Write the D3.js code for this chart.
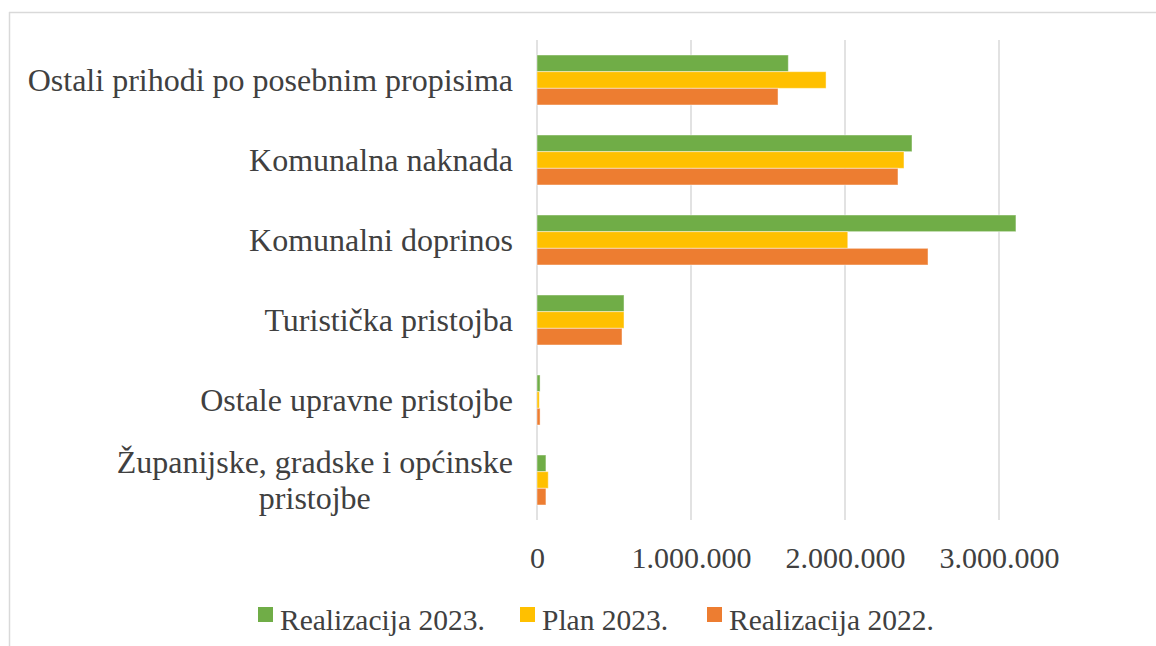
<!DOCTYPE html>
<html>
<head>
<meta charset="utf-8">
<script src="https://cdn.jsdelivr.net/npm/d3@7/dist/d3.min.js"></script>
<style>
  html, body { margin: 0; padding: 0; background: #fff; }
  svg { display: block; }
  text { font-family: "Liberation Serif", "Times New Roman", serif; fill: #404040; }
</style>
</head>
<body>
<svg id="chart" width="1156" height="646"></svg>
<script>
const categories = [
  "Ostali prihodi po posebnim propisima",
  "Komunalna naknada",
  "Komunalni doprinos",
  "Turistička pristojba",
  "Ostale upravne pristojbe",
  "Županijske, gradske i općinske pristojbe"
];
const categoryLines = [
  ["Ostali prihodi po posebnim propisima"],
  ["Komunalna naknada"],
  ["Komunalni doprinos"],
  ["Turistička pristojba"],
  ["Ostale upravne pristojbe"],
  ["Županijske, gradske i općinske", "pristojbe"]
];
const seriesNames = ["Realizacija 2023.", "Plan 2023.", "Realizacija 2022."];
const seriesColors = ["#70AD47", "#FFC000", "#ED7D31"];
const realizacija2023 = [1632000, 2435000, 3110000, 565000, 20000, 58000];
const plan2023 = [1877000, 2383000, 2018000, 565000, 15000, 73000];
const realizacija2022 = [1565000, 2344000, 2539000, 552000, 20000, 58000];
const seriesValues = [realizacija2023, plan2023, realizacija2022];
const tickValues = [0, 1000000, 2000000, 3000000];

const svg = d3.select("#chart");

// chart frame
svg.append("line").attr("x1", 9).attr("x2", 1156).attr("y1", 12.5).attr("y2", 12.5)
  .attr("stroke", "#d9d9d9").attr("stroke-width", 1.5);
svg.append("line").attr("x1", 9.5).attr("x2", 9.5).attr("y1", 12).attr("y2", 646)
  .attr("stroke", "#d9d9d9").attr("stroke-width", 1.5);

const x = d3.scaleLinear().domain([0, 4000000]).range([537, 1153]);
const y = d3.scaleBand().domain(categories).range([40, 520])
  .paddingInner(0.375).paddingOuter(0.1875);
const ySub = d3.scaleBand().domain(seriesNames).range([0, y.bandwidth()]);

const locale = d3.formatLocale({ decimal: ",", thousands: ".", grouping: [3], currency: ["", ""] });
const fmt = locale.format(",d");

// gridlines
svg.append("g").selectAll("line").data(tickValues).join("line")
  .attr("x1", d => x(d)).attr("x2", d => x(d))
  .attr("y1", 40).attr("y2", 520)
  .attr("stroke", "#d9d9d9").attr("stroke-width", 1.5);

// bars
const groups = svg.append("g").selectAll("g").data(categories).join("g")
  .attr("transform", c => `translate(0,${y(c)})`);
groups.each(function(c, ci) {
  d3.select(this).selectAll("rect").data(seriesNames).join("rect")
    .attr("x", x(0))
    .attr("y", s => ySub(s))
    .attr("width", (s, si) => x(seriesValues[si][ci]) - x(0))
    .attr("height", ySub.bandwidth())
    .attr("fill", (s, si) => seriesColors[si])
    .attr("stroke", "rgba(255,255,255,0.45)")
    .attr("stroke-width", 1);
});

// x axis labels
const xAxis = d3.axisBottom(x).tickValues(tickValues).tickFormat(fmt).tickSize(0).tickPadding(0);
const gx = svg.append("g").attr("transform", "translate(0,545)").call(xAxis);
gx.select(".domain").remove();
gx.selectAll("text").attr("font-size", 30).attr("fill", "#404040")
  .attr("font-family", "Liberation Serif, serif").attr("dy", "0.75em");

// category labels
const labelG = svg.append("g");
categories.forEach((c, ci) => {
  const lines = categoryLines[ci];
  const cy = y(c) + y.bandwidth() / 2;
  const lh = 36;
  const first = cy + 11 - (lines.length - 1) * lh / 2;
  const t = labelG.append("text").attr("font-size", 32).attr("text-anchor", "middle");
  const spans = lines.map((l, li) => t.append("tspan").attr("y", first + li * lh).text(l));
  let maxW = 0;
  spans.forEach(s => { maxW = Math.max(maxW, s.node().getComputedTextLength()); });
  spans.forEach(s => s.attr("x", 513 - maxW / 2));
});

// legend
const legendX = [258, 520, 707];
const legend = svg.append("g");
seriesNames.forEach((s, si) => {
  legend.append("rect").attr("x", legendX[si]).attr("y", 607).attr("width", 15).attr("height", 15)
    .attr("fill", seriesColors[si]);
  legend.append("text").attr("x", legendX[si] + 22).attr("y", 630).attr("font-size", 29.5).text(s);
});
</script>
</body>
</html>
